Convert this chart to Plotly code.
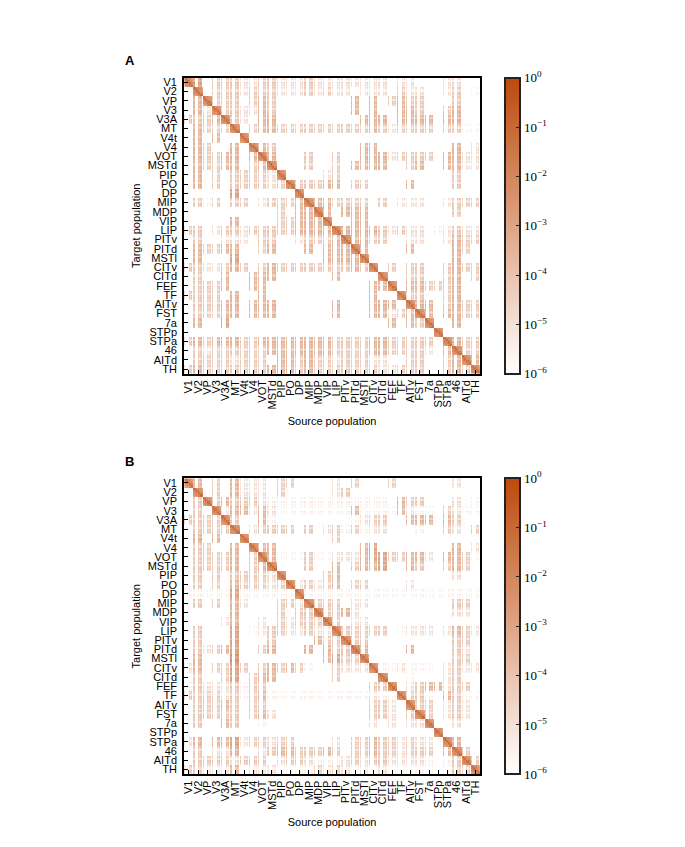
import plotly.graph_objects as go

AREAS = ["V1","V2","VP","V3","V3A","MT","V4t","V4","VOT","MSTd","PIP","PO","DP","MIP","MDP","VIP",
         "LIP","PITv","PITd","MSTl","CITv","CITd","FEF","TF","AITv","FST","7a","STPp","STPa","46","AITd","TH"]

# Strength class of each target (row) / source (column) area pair.
# 0 = nothing, 1..6 = faint..strong, 9 = within-area block
PANEL_A = [
"95033322 33222322 22222202 20002200","09033323 33222323 22022203 22002301",
"04933303 43000000 00404034 33000300","04293322 43000000 00404004 43003400",
"33349320 44000000 00044404 44404400","04333903 44333333 33334323 33303311",
"04040090 00000000 00000000 00000000","04300409 43000000 00044000 00000402",
"04334404 94000300 30044423 33304422","04334403 49000300 30444400 34004422",
"04030333 32900002 30000000 00000300","04030333 32393334 40330000 40000300",
"00000500 00009000 00000000 00000000","03130330 23334944 33330302 22002333",
"00000000 00304494 04440000 00000300","00000400 00334449 00440000 00000000",
"33023323 33334444 94444323 22012322","03002220 33002333 49443300 22002433",
"04334400 34000404 44940000 40000430","04000500 00000004 44490000 00000400",
"33223430 34333333 33439030 33003433","03004004 44000000 40000900 33003403",
"03334004 40000000 00004490 44333400","33330400 40000000 00004009 33003400",
"03334404 44000000 40004440 94403433","03334404 44000000 40004423 49404433",
"04005000 00000000 00000040 43900400","00000000 00000000 00000000 00090000",
"34344433 44444444 33334433 33309433","03233333 34444444 33334433 33204933",
"03333233 30443433 23332200 33003494","34333333 34443433 33333223 33003439",
]
PANEL_B = [
"94030422 20330000 20300030 00000200","09030422 20300000 23000000 00000000",
"03934333 21111111 11111104 33000201","03092442 42111111 11411114 21103211",
"33339300 41000000 00123300 44404300","03333902 33330302 31312200 01003203",
"04040090 00000000 30000000 00000000","03300409 44000000 00045000 00000402",
"03333403 94111311 22245533 44204431","03333403 49000300 40344500 43003430",
"03030333 32900003 40000000 00000200","03030433 32392323 40330000 20000000",
"11111511 11119111 11111111 11111111","03030420 00332933 30220000 00000330",
"00000400 00303393 34200000 00000220","00002400 20323339 30220000 00000000",
"03000501 23322322 93333301 22202432","03000500 03000043 39330000 00000330",
"03234500 34000404 33940000 40000320","04000600 00000004 53390000 00000330",
"24033530 34343100 32229112 11102322","03003503 44000000 30000900 10002300",
"13222313 30000000 00003390 23442330","33332313 41111111 11112119 33104311",
"03334303 30000000 00003320 93302320","03333303 42000000 00003320 39302320",
"03004300 10000000 00002020 22900200","00000000 00000000 00000000 00090000",
"24044523 32330000 20334332 32209400","03022400 23443334 30334332 33304930",
"03333233 30233211 12323322 22101393","33222402 22111132 32121211 11101339",
]
# log10 connection probability for each strength class
LEVELS = {"1": -5.4, "2": -4.8, "3": -4.1, "4": -3.4, "5": -2.8, "6": -2.2}
# Laminar pattern within one area pair (2/3E 2/3I 4E 4I 5E 5I 6E 6I)
SOURCE_PATTERN = [0.0, None, None, None, 0.0, -0.4, 0.0, None]
TARGET_PATTERN = [0.0, -0.2, -0.7, -0.9, 0.1, -0.3, 0.0, -0.5]
BLOCK = [
 [-1.0,-1.5,-2.0,-2.6,-2.0,-2.8,-2.5,-3.3],
 [-1.4,-1.1,-1.9,-2.3,-2.3,-2.4,-2.8,-2.9],
 [-1.9,-1.7,-1.0,-1.5,-1.9,-2.6,-2.1,-3.0],
 [-2.4,-2.0,-1.4,-1.1,-2.4,-2.0,-2.8,-2.5],
 [-1.9,-2.3,-1.6,-2.3,-1.0,-1.5,-1.8,-2.4],
 [-2.7,-2.1,-2.4,-1.9,-1.4,-1.1,-2.3,-1.9],
 [-2.4,-2.6,-2.0,-2.7,-1.6,-2.1,-1.0,-1.5],
 [-3.1,-2.8,-2.9,-2.4,-2.3,-1.7,-1.4,-1.1],
]
FLOOR = -7.0
COLORBAR_TICKS = [0, -1, -2, -3, -4, -5, -6]
TICK_TEXT = ["10<sup>0</sup>", "10<sup>\u22121</sup>", "10<sup>\u22122</sup>", "10<sup>\u22123</sup>",
             "10<sup>\u22124</sup>", "10<sup>\u22125</sup>", "10<sup>\u22126</sup>"]

# The page puts an 8 px margin round the figure
OFFSET = 8
W, H = 685 - 2 * OFFSET, 847 - 2 * OFFSET
LEFT, RIGHT = 183 - OFFSET, 480 - OFFSET
TOPS = [76 - OFFSET, 478 - OFFSET]
SIDE = 297
BAR_LEFT = 505 - OFFSET
N = len(AREAS)
POPS = 8


def expand(rows):
    z = []
    for r, text in enumerate(rows):
        codes = text.replace(" ", "")
        for tp in range(POPS):
            line = []
            for s in range(N):
                code = codes[s]
                for sp in range(POPS):
                    if code == "9":
                        line.append(BLOCK[tp][sp])
                    elif code == "0" or SOURCE_PATTERN[sp] is None:
                        line.append(FLOOR)
                    else:
                        line.append(LEVELS[code] + SOURCE_PATTERN[sp] + TARGET_PATTERN[tp])
            z.append(line)
    return z


fig = go.Figure()
centers = [i + 0.5 for i in range(N * POPS)]
tickpos = [POPS * i + POPS / 2 for i in range(N)]
axis_common = dict(
    range=[0, N * POPS], tickmode="array", tickvals=tickpos, ticktext=AREAS,
    ticks="inside", ticklen=4, tickwidth=1, tickcolor="black", showgrid=False, zeroline=False,
    showline=True, linecolor="black", linewidth=2, mirror=True,
    tickfont=dict(family="Liberation Sans", size=11, color="black"),
)
for idx, (rows, top) in enumerate(zip([PANEL_A, PANEL_B], TOPS)):
    suffix = "" if idx == 0 else "2"
    fig.add_trace(go.Heatmap(
        z=expand(rows), x=centers, y=centers, xaxis="x" + suffix, yaxis="y" + suffix,
        zmin=-6, zmax=0, colorscale=[[0, "#ffffff"], [1, "#bd4a0c"]], hoverongaps=False,
        colorbar=dict(
            x=BAR_LEFT / W, xanchor="left", y=1 - top / H, yanchor="top", thickness=15, thicknessmode="pixels",
            len=SIDE / H, lenmode="fraction", xpad=0, ypad=0, outlinewidth=2, outlinecolor="#222222",
            tickmode="array", tickvals=COLORBAR_TICKS, ticktext=TICK_TEXT, ticks="inside", ticklen=5,
            tickcolor="#222222", tickfont=dict(family="Liberation Serif", size=13, color="black"),
        ),
    ))
    fig.update_layout({
        "xaxis" + suffix: dict(axis_common, domain=[LEFT / W, RIGHT / W], anchor="y" + suffix, tickangle=-90,
                               title=dict(text="Source population", standoff=9,
                                          font=dict(family="Liberation Sans", size=11, color="black"))),
        "yaxis" + suffix: dict(axis_common, domain=[1 - (top + SIDE) / H, 1 - top / H], anchor="x" + suffix,
                               range=[N * POPS, 0], ticklabelstandoff=3,
                               title=dict(text="Target population", standoff=5,
                                          font=dict(family="Liberation Sans", size=11, color="black"))),
    })

fig.update_layout(
    width=W, height=H, margin=dict(l=0, r=0, t=0, b=0), paper_bgcolor="white", plot_bgcolor="white",
    annotations=[
        dict(text="<b>A</b>", x=(122 - OFFSET) / W, y=1 - (59 - OFFSET) / H, xref="paper", yref="paper",
             xanchor="left", yanchor="middle", showarrow=False,
             font=dict(family="Liberation Sans", size=13, color="black")),
        dict(text="<b>B</b>", x=(122 - OFFSET) / W, y=1 - (461 - OFFSET) / H, xref="paper", yref="paper",
             xanchor="left", yanchor="middle", showarrow=False,
             font=dict(family="Liberation Sans", size=13, color="black")),
    ],
)
fig.write_html("out.html")
